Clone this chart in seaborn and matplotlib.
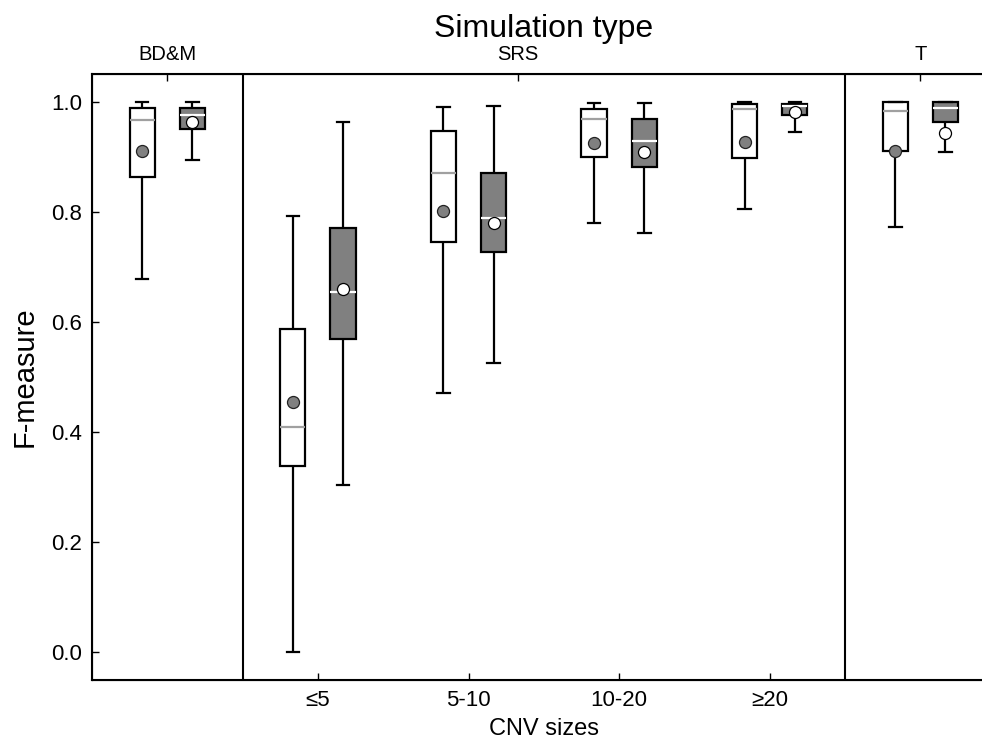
import pandas as pd
import matplotlib
matplotlib.use('Agg')
import matplotlib.pyplot as plt
import seaborn as sns
import numpy as np

# Caixas: [mínimo, Q1, mediana, Q3, máximo] e médias

groups = ['BD&M', '≤5', '5-10', '10-20', '≥20', 'T']
methods = ['Method A', 'Method B']

# Método A (caixas brancas)
a_min = [0.678, 0.000, 0.471, 0.780, 0.805, 0.773]
a_q1 = [0.863, 0.338, 0.745, 0.899, 0.897, 0.910]
a_med = [0.967, 0.409, 0.871, 0.969, 0.987, 0.982]
a_q3 = [0.988, 0.587, 0.947, 0.987, 0.996, 1.000]
a_max = [1.000, 0.792, 0.990, 0.998, 1.000, 1.000]
a_mean = [0.911, 0.454, 0.801, 0.925, 0.927, 0.911]

# Método B (caixas cinzas)
b_min = [0.894, 0.304, 0.526, 0.762, 0.944, 0.908]
b_q1 = [0.950, 0.569, 0.727, 0.882, 0.975, 0.963]
b_med = [0.975, 0.655, 0.788, 0.928, 0.992, 0.988]
b_q3 = [0.989, 0.770, 0.870, 0.968, 0.996, 1.000]
b_max = [1.000, 0.962, 0.991, 0.998, 1.000, 1.000]
b_mean = [0.962, 0.660, 0.779, 0.908, 0.981, 0.942]

size_ticks = ['≤5', '5-10', '10-20', '≥20']
sim_types = ['BD&M', 'SRS', 'T']
sim_pos = [0, 2.33, 5]

rows = []
for method, cols in zip(methods, [(a_min, a_q1, a_med, a_q3, a_max),
                                  (b_min, b_q1, b_med, b_q3, b_max)]):
    for i, g in enumerate(groups):
        for c in cols:
            rows.append({'group': g, 'method': method, 'value': c[i]})
dt = pd.DataFrame(rows)

plt.rcParams['font.family'] = ['Liberation Sans', 'DejaVu Sans']
plt.rcParams['xtick.direction'] = 'in'
plt.rcParams['ytick.direction'] = 'in'

fig = plt.figure(figsize=(9.82, 7.39), dpi=100)
ax = fig.add_axes([0.0937, 0.0798, 0.9202, 0.8201])

width = 0.667
styles = {'Method A': '#a0a0a0', 'Method B': 'white'}
for method in methods:
    sns.boxplot(data=dt[dt['method'] == method], x='group', y='value',
                hue='method', hue_order=methods, order=groups, dodge=True,
                palette={'Method A': 'white', 'Method B': '#808080'},
                width=width, gap=0.5, whis=(0, 100), linecolor='black',
                linewidth=1.6, medianprops={'color': styles[method], 'linewidth': 1.6},
                legend=False, ax=ax)

# Médias
pos = np.arange(len(groups))
ax.scatter(pos - width / 4, a_mean, s=75, color='#808080', edgecolor='#222222',
           linewidth=0.9, zorder=5)
ax.scatter(pos + width / 4, b_mean, s=75, color='white', edgecolor='black',
           linewidth=0.9, zorder=5)

ax.axvline(0.5, color='black', lw=1.5)
ax.axvline(4.5, color='black', lw=1.5)

ax.set_xlim(-0.5, 5.5)
ax.set_ylim(-0.05, 1.05)
ax.set_yticks(np.arange(0, 1.01, 0.2))
ax.set_yticklabels([f'{v:.1f}' for v in np.arange(0, 1.01, 0.2)])
ax.set_xticks([1, 2, 3, 4])
ax.set_xticklabels(size_ticks)
ax.tick_params(axis='both', labelsize=16, length=5, width=1, pad=7)
ax.tick_params(axis='y', right=False)
ax.set_xlabel('CNV sizes', fontsize=17, labelpad=5)
ax.set_ylabel('F-measure', fontsize=21, labelpad=9)
for s in ax.spines.values():
    s.set_linewidth(1.5)

top = ax.twiny()
top.set_xlim(ax.get_xlim())
top.set_xticks(sim_pos)
top.set_xticklabels(sim_types)
top.tick_params(axis='x', labelsize=14.5, length=5, width=1, pad=7)
top.set_xlabel('Simulation type', fontsize=23, labelpad=6)

plt.savefig('out.png', dpi=100)
plt.close()
